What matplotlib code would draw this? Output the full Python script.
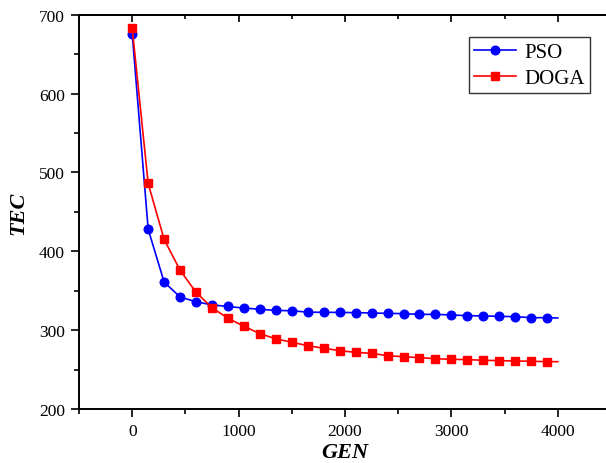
import matplotlib
matplotlib.use("Agg")
import matplotlib.pyplot as plt
from matplotlib.ticker import MultipleLocator

plt.rcParams['font.family'] = ['Liberation Serif', 'DejaVu Serif']

# generation index of each recorded point (markers up to 3900, line to 4000)
gen = [0, 150, 300, 450, 600, 750, 900, 1050, 1200, 1350, 1500, 1650, 1800,
       1950, 2100, 2250, 2400, 2550, 2700, 2850, 3000, 3150, 3300, 3450,
       3600, 3750, 3900, 4000]

pso = [676, 428, 361, 342, 336, 332, 330, 328, 326.5, 325, 324.6, 322.8,
       322.6, 322.5, 322.2, 321.7, 321.3, 320.9, 320.0, 320.0, 319.2, 318.4,
       318.0, 317.5, 317.1, 315.8, 315.8, 315.4]

doga = [683, 486, 415, 376, 348, 328.5, 315, 305, 295.5, 289, 284.6, 280.3,
        277.0, 274.0, 271.8, 270.6, 267.6, 266.3, 265.1, 263.8, 263.0, 262.6,
        261.8, 261.3, 260.9, 260.5, 260.0, 260.0]

fig = plt.figure(figsize=(6.06, 4.64), dpi=100)
ax = fig.add_axes([79 / 606, 1 - 410 / 464, 532 / 606, (410 - 15.7) / 464])

marks = list(range(len(gen) - 1))
ax.plot(gen, pso, color='#0000FF', lw=1.2, marker='o', ms=6.2,
        markevery=marks, label='PSO')
ax.plot(gen, doga, color='#FF0000', lw=1.2, marker='s', ms=5.6,
        markevery=marks, label='DOGA')

ax.set_xlim(-500, 4500)
ax.set_ylim(200, 700)
ax.xaxis.set_major_locator(MultipleLocator(1000))
ax.xaxis.set_minor_locator(MultipleLocator(500))
ax.yaxis.set_major_locator(MultipleLocator(100))
ax.yaxis.set_minor_locator(MultipleLocator(50))

for s in ax.spines.values():
    s.set_linewidth(1.4)
ax.spines['right'].set_visible(False)

ax.tick_params(which='major', direction='out', length=6, width=1.2,
               labelsize=12.5, pad=4)
ax.tick_params(which='minor', direction='out', length=3.5, width=1.2)

# inward ticks along the top edge
top = ax.secondary_xaxis('top')
top.xaxis.set_major_locator(MultipleLocator(1000))
top.xaxis.set_minor_locator(MultipleLocator(500))
top.tick_params(which='major', direction='in', length=5, width=1.2,
                labeltop=False)
top.tick_params(which='minor', direction='in', length=3, width=1.2)
top.spines['top'].set_linewidth(1.4)

ax.set_xlabel('GEN', fontsize=16, fontweight='bold', fontstyle='italic',
              labelpad=2)
ax.set_ylabel('TEC', fontsize=16, fontweight='bold', fontstyle='italic',
              labelpad=8)

leg = ax.legend(loc='upper right', bbox_to_anchor=(0.96, 0.943), fontsize=15,
                fancybox=False, framealpha=1, edgecolor='#333333',
                handlelength=2.0, handletextpad=0.4, borderpad=0.25,
                labelspacing=0.3, borderaxespad=0)
leg.get_frame().set_linewidth(1.0)

fig.savefig('out.png', dpi=100)
